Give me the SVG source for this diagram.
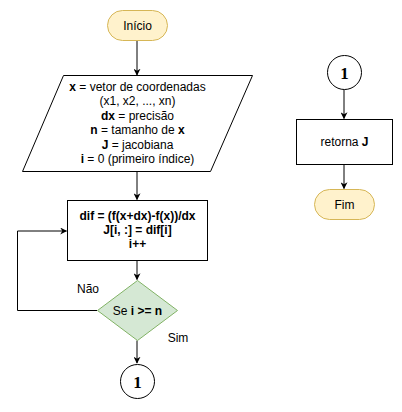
<svg xmlns="http://www.w3.org/2000/svg" width="402" height="412" viewBox="0 0 402 412">
<defs>
<style>
text{font-family:"Liberation Sans",Arial,Helvetica,sans-serif;font-size:12px;fill:#000;text-anchor:middle}
.b{font-weight:bold}
.one{font-family:"Liberation Serif","Times New Roman",serif;font-size:17px;font-weight:bold}
.term{fill:#fff2cc;stroke:#d6b656;stroke-width:1}
.box{fill:#fff;stroke:#000;stroke-width:1}
.dec{fill:#d5e8d4;stroke:#82b366;stroke-width:1}
.edge{fill:none;stroke:#000;stroke-width:1}
</style>
<marker id="ah" viewBox="0 0 10 10" refX="9" refY="5" markerWidth="7" markerHeight="7" orient="auto" markerUnits="userSpaceOnUse">
<path d="M0,0 L10,5 L0,10 L3,5 Z" fill="#000"/>
</marker>
</defs>
<rect width="402" height="412" fill="#fff"/>
<g id="connectors">
<path class="edge" d="M137,40.5 V75" marker-end="url(#ah)"/>
<path class="edge" d="M137,171 V199.5" marker-end="url(#ah)"/>
<path class="edge" d="M137,260 V279.5" marker-end="url(#ah)"/>
<path class="edge" d="M97,310.5 H17.5 V231 H66.5" marker-end="url(#ah)"/>
<path class="edge" d="M137,340.5 V363" marker-end="url(#ah)"/>
<path class="edge" d="M344,89.5 V118.5" marker-end="url(#ah)"/>
<path class="edge" d="M344,164 V188.5" marker-end="url(#ah)"/>
<text x="88" y="293">Não</text>
<text x="178" y="342">Sim</text>
</g>
<g id="inicio">
<rect class="term" x="107.5" y="10.5" width="60" height="30" rx="15" ry="15"/>
<text x="137.5" y="29.5">Início</text>
</g>
<g id="entrada">
<polygon class="box" points="63.5,75.5 252.5,75.5 210.5,171.5 22.5,171.5"/>
<text x="137.5" y="90.5"><tspan class="b">x</tspan> = vetor de coordenadas</text>
<text x="137.5" y="105">(x1, x2, ..., xn)</text>
<text x="137.5" y="119.5"><tspan class="b">dx</tspan> = precisão</text>
<text x="137.5" y="134"><tspan class="b">n</tspan> = tamanho de <tspan class="b">x</tspan></text>
<text x="137.5" y="148.5"><tspan class="b">J</tspan> = jacobiana</text>
<text x="137.5" y="163"><tspan class="b">i</tspan> = 0 (primeiro índice)</text>
</g>
<g id="calculo">
<rect class="box" x="67.5" y="200.5" width="140" height="60"/>
<text class="b" x="137.5" y="220">dif = (f(x+dx)-f(x))/dx</text>
<text class="b" x="137.5" y="234">J[i, :] = dif[i]</text>
<text class="b" x="137.5" y="248">i++</text>
</g>
<g id="decisao">
<polygon class="dec" points="137.5,280.5 177.5,310.5 137.5,340.5 97.5,310.5"/>
<text x="137.5" y="314.5">Se <tspan class="b">i &gt;= n</tspan></text>
</g>
<g id="conector1a">
<circle cx="137.5" cy="381.5" r="17" fill="#fff" stroke="#000"/>
<text class="one" x="137.5" y="387.5">1</text>
</g>
<g id="conector1b">
<circle cx="344.5" cy="72.5" r="17" fill="#fff" stroke="#000"/>
<text class="one" x="344.5" y="78.5">1</text>
</g>
<g id="retorno">
<rect class="box" x="296.5" y="119.5" width="96" height="45"/>
<text class="b" x="344.5" y="146"><tspan font-weight="normal">retorna </tspan>J</text>
</g>
<g id="fim">
<rect class="term" x="314.5" y="189.5" width="60" height="30" rx="15" ry="15"/>
<text x="344.5" y="208.5">Fim</text>
</g>
</svg>
